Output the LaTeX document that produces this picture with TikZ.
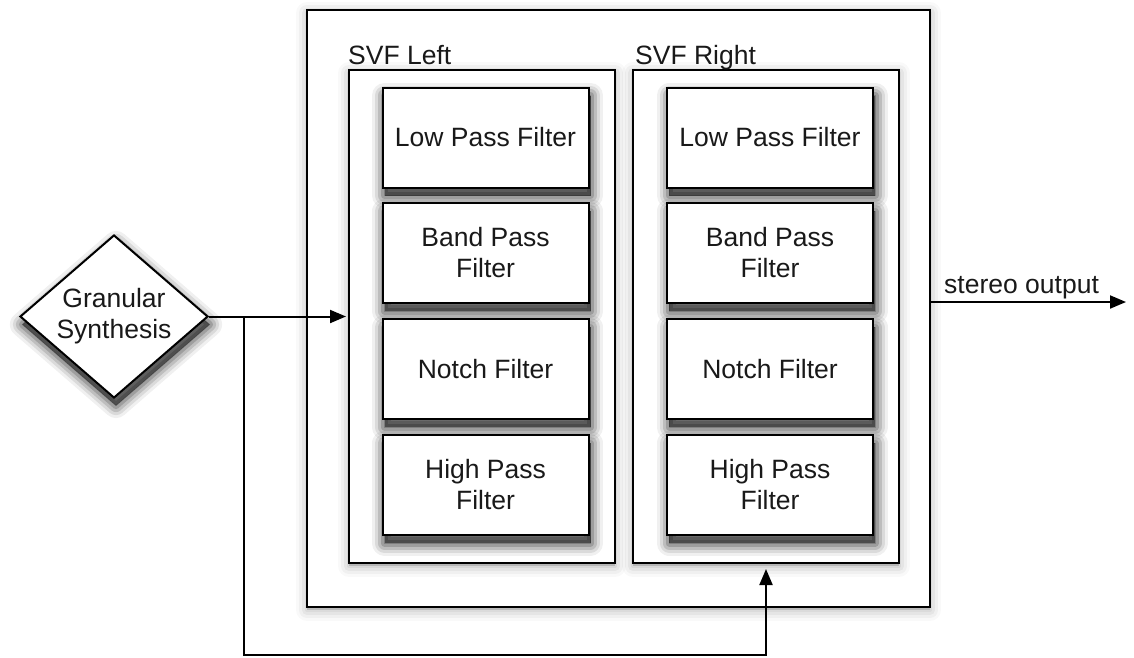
\documentclass[tikz,border=0pt]{standalone}
\usepackage{fontspec}
\setmainfont{Liberation Sans}
\usetikzlibrary{shapes.geometric,arrows.meta}

\tikzset{
  % one layer of a soft shadow: a widened, shifted, translucent copy of the shape
  shadelayer/.style n args={4}{preaction={draw=black, fill=black, line join=round,
      line width=#1, opacity=#2, transform canvas={xshift=#3, yshift=#4}}},
  softdrop/.style={shadelayer={1pt}{0.2}{2pt}{-8pt}, shadelayer={7pt}{0.17}{2pt}{-8pt},
      shadelayer={13pt}{0.13}{2pt}{-8pt}, shadelayer={19pt}{0.09}{2pt}{-8pt},
      shadelayer={25pt}{0.06}{2pt}{-8pt}},
  softglow/.style={shadelayer={4pt}{0.05}{0pt}{-3pt}, shadelayer={10pt}{0.045}{0pt}{-3pt},
      shadelayer={16pt}{0.035}{0pt}{-3pt}, shadelayer={22pt}{0.025}{0pt}{-3pt}},
  wire/.style={line width=2pt, draw=black},
  tip/.style={-{Triangle[length=16pt,width=13pt]}},
  panel/.style={draw=black, line width=2pt, fill=white, inner sep=0pt, outer sep=0pt, softglow},
  filterbox/.style={draw=black, line width=2pt, fill=white, inner sep=0pt, outer sep=0pt,
    minimum width=206pt, minimum height=100pt, align=center, text=black!90, softdrop},
  caption/.style={inner sep=0pt, text=black!90},
}

\begin{document}
\begin{tikzpicture}[x=1pt, y=1pt, font=\fontsize{26.5}{31}\selectfont]
  \useasboundingbox (0,0) rectangle (1134,-657);

  % enclosing unit
  \node[panel, minimum width=623pt, minimum height=597pt] (unit) at (618.5,-308.5) {};

  % the two state-variable filters
  \node[panel, minimum width=266pt, minimum height=493pt] (svfl) at (482,-316.5) {};
  \node[panel, minimum width=266pt, minimum height=493pt] (svfr) at (766,-316.5) {};
  \node[caption, anchor=base west] (svfllabel) at (348,-64) {SVF Left};
  \node[caption, anchor=base west] (svfrlabel) at (635,-64) {SVF Right};

  % filter outputs, left channel
  \node[filterbox] (lpl) at (485.5,-137.5) {Low Pass Filter};
  \node[filterbox] (bpl) at (485.5,-253) {Band Pass\\Filter};
  \node[filterbox] (nfl) at (485.5,-369) {Notch Filter};
  \node[filterbox] (hpl) at (485.5,-485) {High Pass\\Filter};

  % filter outputs, right channel
  \node[filterbox] (lpr) at (770,-137.5) {Low Pass Filter};
  \node[filterbox] (bpr) at (770,-253) {Band Pass\\Filter};
  \node[filterbox] (nfr) at (770,-369) {Notch Filter};
  \node[filterbox] (hpr) at (770,-485) {High Pass\\Filter};

  % source
  \node[diamond, draw=black, line width=2pt, fill=white, inner sep=0pt, aspect=1.15,
        minimum width=188pt, minimum height=163pt, align=center, text=black!90, softdrop]
        (gs) at (114,-316.5) {Granular\\Synthesis};

  % signal routing
  \coordinate (split) at (244,-316.5);
  \coordinate (floor) at (244,-655);
  \draw[wire, tip, shorten >=3pt] (gs.east) -- (svfl.west);
  \draw[wire, tip, shorten >=6pt] (split) -- (floor) -| (svfr.south);

  % output
  \coordinate (outstart) at (930,-302);
  \coordinate (outend) at (1126,-302);
  \draw[wire, tip] (outstart) -- (outend);
  \node[caption, anchor=base west] (outlabel) at (944,-293) {stereo output};
\end{tikzpicture}
\end{document}
